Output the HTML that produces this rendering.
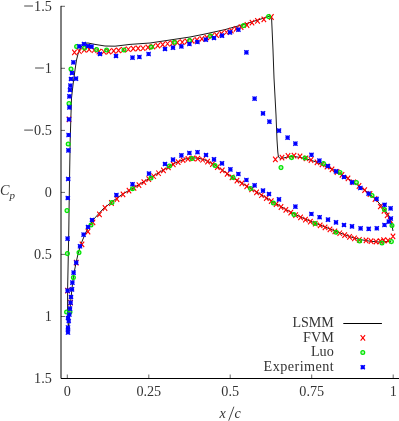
<!DOCTYPE html>
<html><head><meta charset="utf-8"><title>Cp</title>
<style>
html,body{margin:0;padding:0;background:#fff;}
body{width:399px;height:421px;overflow:hidden;}
svg{display:block;will-change:transform;}
text{font-family:"Liberation Serif",serif;font-size:14.2px;fill:#333;}
</style></head><body>
<svg width="399" height="421" viewBox="0 0 399 421">
<rect width="399" height="421" fill="#fff"/>
<path d="M393.0,231.0 L391.5,223.0 L389.0,216.0 L385.0,210.0 L379.0,203.0 L370.0,194.0 L359.0,186.0 L345.0,176.4 L335.0,170.6 L325.0,166.0 L315.0,161.6 L305.0,158.4 L295.0,156.6 L290.0,156.6 L286.0,157.4 L283.0,158.1 L280.8,158.4 L279.2,157.8 L278.3,156.0 L277.8,152.0 L277.0,140.0 L276.0,115.0 L274.0,78.0 L273.0,50.0 L271.6,18.5 L270.0,16.0 L258.0,20.0 L245.0,24.0 L225.0,29.6 L205.0,34.0 L190.0,37.0 L170.0,40.0 L150.0,43.0 L130.0,44.4 L125.0,45.0 L115.0,46.2 L105.0,46.0 L95.0,44.4 L88.0,43.0 L85.0,43.3 L82.0,45.6 L80.0,49.0 L78.0,54.0 L76.5,60.0 L75.0,70.0 L73.0,85.0 L71.5,98.0 L70.8,120.0 L70.2,140.0 L69.6,175.0 L69.2,200.0 L68.8,230.0 L68.4,250.0 L68.0,270.0 L67.6,290.0 L67.6,312.0 L68.3,327.0 L69.0,324.0 L69.5,318.0 L70.0,310.0 L70.6,302.0 L71.5,293.0 L72.5,284.0 L74.0,273.0 L76.0,263.0 L78.0,254.0 L80.6,245.0 L83.0,239.0 L87.0,230.0 L93.0,220.0 L103.0,209.0 L113.0,201.0 L123.0,193.8 L135.0,187.0 L145.0,181.0 L155.0,175.0 L165.0,169.0 L175.0,163.0 L185.0,159.0 L190.0,158.2 L195.0,157.9 L200.0,158.6 L205.0,160.0 L215.0,165.0 L225.0,172.0 L235.0,179.0 L245.0,185.0 L255.0,191.0 L265.0,197.0 L275.0,203.0 L285.0,209.0 L295.0,214.4 L305.0,219.0 L319.0,224.6 L339.0,232.6 L351.0,237.0 L359.0,239.4 L370.0,241.2 L379.0,242.0 L391.0,241.4" fill="none" stroke="#000" stroke-width="0.9" stroke-linejoin="round"/>
<path d="M66.8,116.7L71.2,122.2M66.8,122.2L71.2,116.7M65.3,287.9L69.8,293.4M65.3,293.4L69.8,287.9M68.3,299.9L72.8,305.4M68.3,305.4L72.8,299.9M74.0,259.9L78.5,265.4M74.0,265.4L78.5,259.9M72.2,49.6L76.7,55.1M72.2,55.1L76.7,49.6M77.1,48.5L81.6,54.0M77.1,54.0L81.6,48.5M82.0,47.2L86.5,52.7M82.0,52.7L86.5,47.2M86.9,46.6L91.4,52.1M86.9,52.1L91.4,46.6M91.8,47.5L96.3,53.0M91.8,53.0L96.3,47.5M96.7,48.9L101.2,54.4M96.7,54.4L101.2,48.9M101.6,49.0L106.1,54.5M101.6,54.5L106.1,49.0M106.5,48.8L111.0,54.3M106.5,54.3L111.0,48.8M111.4,48.2L115.9,53.7M111.4,53.7L115.9,48.2M116.3,47.7L120.8,53.2M116.3,53.2L120.8,47.7M121.2,47.0L125.7,52.5M121.2,52.5L125.7,47.0M126.1,46.5L130.6,52.0M126.1,52.0L130.6,46.5M131.0,45.8L135.5,51.3M131.0,51.3L135.5,45.8M135.9,45.7L140.4,51.2M135.9,51.2L140.4,45.7M140.8,45.5L145.3,51.0M140.8,51.0L145.3,45.5M145.7,44.6L150.2,50.1M145.7,50.1L150.2,44.6M150.6,43.8L155.1,49.3M150.6,49.3L155.1,43.8M155.5,42.9L160.0,48.4M155.5,48.4L160.0,42.9M160.4,41.8L164.9,47.3M160.4,47.3L164.9,41.8M165.3,41.0L169.8,46.5M165.3,46.5L169.8,41.0M170.2,40.4L174.7,45.9M170.2,45.9L174.7,40.4M175.1,39.8L179.6,45.3M175.1,45.3L179.6,39.8M180.0,39.3L184.5,44.8M180.0,44.8L184.5,39.3M184.9,38.7L189.4,44.2M184.9,44.2L189.4,38.7M189.8,38.1L194.3,43.6M189.8,43.6L194.3,38.1M194.7,37.2L199.2,42.7M194.7,42.7L199.2,37.2M199.6,36.1L204.1,41.6M199.6,41.6L204.1,36.1M204.5,34.7L209.0,40.2M204.5,40.2L209.0,34.7M209.4,33.4L213.9,38.9M209.4,38.9L213.9,33.4M214.3,32.4L218.8,37.9M214.3,37.9L218.8,32.4M219.2,30.9L223.7,36.4M219.2,36.4L223.7,30.9M224.1,29.5L228.6,35.0M224.1,35.0L228.6,29.5M229.0,27.8L233.5,33.3M229.0,33.3L233.5,27.8M233.9,26.2L238.4,31.7M233.9,31.7L238.4,26.2M238.8,24.4L243.3,29.9M238.8,29.9L243.3,24.4M244.8,22.2L249.2,27.8M244.8,27.8L249.2,22.2M249.8,19.9L254.2,25.4M249.8,25.4L254.2,19.9M255.2,18.1L259.8,23.6M255.2,23.6L259.8,18.1M261.6,16.6L266.1,22.1M261.6,22.1L266.1,16.6M269.1,14.2L273.6,19.8M269.1,19.8L273.6,14.2M273.1,156.7L277.6,162.2M273.1,162.2L277.6,156.7M279.8,154.8L284.2,160.3M279.8,160.3L284.2,154.8M285.8,153.2L290.2,158.8M285.8,158.8L290.2,153.2M291.8,152.8L296.2,158.3M291.8,158.3L296.2,152.8M297.8,153.7L302.2,159.2M297.8,159.2L302.2,153.7M303.8,155.7L308.2,161.2M303.8,161.2L308.2,155.7M308.8,157.2L313.2,162.8M308.8,162.8L313.2,157.2M314.8,159.7L319.2,165.2M314.8,165.2L319.2,159.7M319.8,161.8L324.2,167.2M319.8,167.2L324.2,161.8M324.8,163.8L329.2,169.3M324.8,169.3L329.2,163.8M329.8,166.7L334.2,172.2M329.8,172.2L334.2,166.7M334.8,169.2L339.2,174.8M334.8,174.8L339.2,169.2M339.8,172.1L344.2,177.6M339.8,177.6L344.2,172.1M345.8,175.7L350.2,181.2M345.8,181.2L350.2,175.7M351.2,179.5L355.8,185.0M351.2,185.0L355.8,179.5M356.8,183.2L361.2,188.8M356.8,188.8L361.2,183.2M362.4,187.3L366.9,192.8M362.4,192.8L366.9,187.3M367.8,191.2L372.2,196.8M367.8,196.8L372.2,191.2M372.8,196.2L377.2,201.8M372.8,201.8L377.2,196.2M378.1,203.8L382.6,209.2M378.1,209.2L382.6,203.8M381.8,208.1L386.2,213.6M381.8,213.6L386.2,208.1M384.9,212.7L389.4,218.2M384.9,218.2L389.4,212.7M388.1,217.8L392.6,223.2M388.1,223.2L392.6,217.8M390.8,233.7L395.2,239.2M390.8,239.2L395.2,233.7M79.8,241.7L84.2,247.2M79.8,247.2L84.2,241.7M85.8,228.8L90.2,234.3M85.8,234.3L90.2,228.8M90.8,219.7L95.2,225.2M90.8,225.2L95.2,219.7M97.2,211.7L101.7,217.2M97.2,217.2L101.7,211.7M102.8,205.2L107.2,210.8M102.8,210.8L107.2,205.2M109.2,200.2L113.7,205.8M109.2,205.8L113.7,200.2M114.8,196.2L119.2,201.8M114.8,201.8L119.2,196.2M120.8,191.7L125.2,197.2M120.8,197.2L125.2,191.7M126.8,187.8L131.2,193.3M126.8,193.3L131.2,187.8M363.8,237.7L368.2,243.2M363.8,243.2L368.2,237.7M368.8,238.3L373.2,243.8M368.8,243.8L373.2,238.3M373.8,238.8L378.2,244.3M373.8,244.3L378.2,238.8M378.1,238.4L382.6,243.9M378.1,243.9L382.6,238.4M381.4,237.3L385.9,242.8M381.4,242.8L385.9,237.3M385.8,237.9L390.2,243.4M385.8,243.4L390.2,237.9M131.8,185.2L136.2,190.7M131.8,190.7L136.2,185.2M136.7,182.3L141.2,187.8M136.7,187.8L141.2,182.3M141.6,179.4L146.1,184.9M141.6,184.9L146.1,179.4M146.5,176.4L151.0,181.9M146.5,181.9L151.0,176.4M151.4,173.5L155.9,179.0M151.4,179.0L155.9,173.5M156.3,170.5L160.8,176.0M156.3,176.0L160.8,170.5M161.2,167.6L165.7,173.1M161.2,173.1L165.7,167.6M166.1,164.7L170.6,170.2M166.1,170.2L170.6,164.7M171.0,161.7L175.5,167.2M171.0,167.2L175.5,161.7M175.9,159.4L180.4,164.9M175.9,164.9L180.4,159.4M180.8,157.4L185.3,162.9M180.8,162.9L185.3,157.4M185.7,156.2L190.2,161.7M185.7,161.7L190.2,156.2M190.6,155.7L195.1,161.2M190.6,161.2L195.1,155.7M195.5,155.9L200.0,161.4M195.5,161.4L200.0,155.9M200.4,157.0L204.9,162.5M200.4,162.5L204.9,157.0M205.3,158.9L209.8,164.4M205.3,164.4L209.8,158.9M210.2,161.4L214.7,166.9M210.2,166.9L214.7,161.4M215.1,164.3L219.6,169.8M215.1,169.8L219.6,164.3M220.0,167.7L224.5,173.2M220.0,173.2L224.5,167.7M224.9,171.1L229.4,176.6M224.9,176.6L229.4,171.1M229.8,174.6L234.3,180.1M229.8,180.1L234.3,174.6M234.7,177.8L239.2,183.3M234.7,183.3L239.2,177.8M239.6,180.7L244.1,186.2M239.6,186.2L244.1,180.7M244.5,183.7L249.0,189.2M244.5,189.2L249.0,183.7M249.4,186.6L253.9,192.1M249.4,192.1L253.9,186.6M254.3,189.6L258.8,195.1M254.3,195.1L258.8,189.6M259.2,192.5L263.7,198.0M259.2,198.0L263.7,192.5M264.1,195.4L268.6,200.9M264.1,200.9L268.6,195.4M269.0,198.4L273.5,203.9M269.0,203.9L273.5,198.4M273.9,201.3L278.4,206.8M273.9,206.8L278.4,201.3M278.8,204.2L283.2,209.8M278.8,209.8L283.2,204.2M283.6,207.1L288.1,212.6M283.6,212.6L288.1,207.1M288.5,209.8L293.0,215.3M288.5,215.3L293.0,209.8M293.4,212.4L297.9,217.9M293.4,217.9L297.9,212.4M298.3,214.6L302.8,220.1M298.3,220.1L302.8,214.6M303.2,216.8L307.7,222.3M303.2,222.3L307.7,216.8M308.1,218.8L312.6,224.3M308.1,224.3L312.6,218.8M313.0,220.8L317.5,226.3M313.0,226.3L317.5,220.8M317.9,222.7L322.4,228.2M317.9,228.2L322.4,222.7M322.8,224.7L327.3,230.2M322.8,230.2L327.3,224.7M327.7,226.6L332.2,232.1M327.7,232.1L332.2,226.6M332.6,228.6L337.1,234.1M332.6,234.1L337.1,228.6M337.5,230.5L342.0,236.0M337.5,236.0L342.0,230.5M342.4,232.3L346.9,237.8M342.4,237.8L346.9,232.3M347.3,234.1L351.8,239.6M347.3,239.6L351.8,234.1M352.2,235.7L356.7,241.2M352.2,241.2L356.7,235.7M357.1,237.1L361.6,242.6M357.1,242.6L361.6,237.1M360.6,335.1L365.1,340.6M360.6,340.6L365.1,335.1" fill="none" stroke="#ff0000" stroke-width="1.1"/>
<g fill="#00e400" fill-opacity="0.3" stroke="#00e400" stroke-width="1.25"><circle cx="67.0" cy="210.6" r="1.9"/><circle cx="67.4" cy="253.6" r="1.9"/><circle cx="66.6" cy="312.0" r="1.9"/><circle cx="68.2" cy="144.0" r="1.9"/><circle cx="69.0" cy="103.4" r="1.9"/><circle cx="71.0" cy="69.0" r="1.9"/><circle cx="76.6" cy="46.4" r="1.9"/><circle cx="84.6" cy="48.0" r="1.9"/><circle cx="96.6" cy="49.4" r="1.9"/><circle cx="106.6" cy="50.0" r="1.9"/><circle cx="124.0" cy="50.0" r="1.9"/><circle cx="151.4" cy="47.0" r="1.9"/><circle cx="174.4" cy="42.2" r="1.9"/><circle cx="189.6" cy="40.4" r="1.9"/><circle cx="210.6" cy="36.0" r="1.9"/><circle cx="243.6" cy="25.6" r="1.9"/><circle cx="268.6" cy="16.6" r="1.9"/><circle cx="281.0" cy="167.6" r="1.9"/><circle cx="291.6" cy="157.6" r="1.9"/><circle cx="305.0" cy="158.0" r="1.9"/><circle cx="323.5" cy="163.5" r="1.9"/><circle cx="340.0" cy="172.4" r="1.9"/><circle cx="356.4" cy="182.6" r="1.9"/><circle cx="372.0" cy="195.4" r="1.9"/><circle cx="384.4" cy="209.4" r="1.9"/><circle cx="392.0" cy="225.5" r="1.9"/><circle cx="70.0" cy="312.0" r="1.9"/><circle cx="73.4" cy="277.6" r="1.9"/><circle cx="79.0" cy="252.6" r="1.9"/><circle cx="91.0" cy="225.0" r="1.9"/><circle cx="112.0" cy="202.4" r="1.9"/><circle cx="132.5" cy="188.7" r="1.9"/><circle cx="151.0" cy="178.0" r="1.9"/><circle cx="169.4" cy="166.0" r="1.9"/><circle cx="192.0" cy="158.4" r="1.9"/><circle cx="215.0" cy="165.4" r="1.9"/><circle cx="233.0" cy="177.4" r="1.9"/><circle cx="250.6" cy="188.4" r="1.9"/><circle cx="273.4" cy="203.0" r="1.9"/><circle cx="294.0" cy="214.4" r="1.9"/><circle cx="315.0" cy="223.4" r="1.9"/><circle cx="336.0" cy="232.2" r="1.9"/><circle cx="359.6" cy="241.0" r="1.9"/><circle cx="382.0" cy="243.0" r="1.9"/><circle cx="391.4" cy="241.6" r="1.9"/><circle cx="362.8" cy="352.5" r="1.9"/></g>
<path d="M67.3,94.3L71.5,98.5M67.3,98.5L71.5,94.3M67.3,96.4L71.5,96.4M69.4,94.3L69.4,98.5M67.9,87.9L72.1,92.1M67.9,92.1L72.1,87.9M67.9,90.0L72.1,90.0M70.0,87.9L70.0,92.1M68.3,83.5L72.5,87.7M68.3,87.7L72.5,83.5M68.3,85.6L72.5,85.6M70.4,83.5L70.4,87.7M68.9,76.9L73.1,81.1M68.9,81.1L73.1,76.9M68.9,79.0L73.1,79.0M71.0,76.9L71.0,81.1M73.9,76.5L78.1,80.7M73.9,80.7L78.1,76.5M73.9,78.6L78.1,78.6M76.0,76.5L76.0,80.7M69.9,70.9L74.1,75.1M69.9,75.1L74.1,70.9M69.9,73.0L74.1,73.0M72.0,70.9L72.0,75.1M71.3,60.3L75.5,64.5M71.3,64.5L75.5,60.3M71.3,62.4L75.5,62.4M73.4,60.3L73.4,64.5M77.3,44.3L81.5,48.5M77.3,48.5L81.5,44.3M77.3,46.4L81.5,46.4M79.4,44.3L79.4,48.5M81.9,41.9L86.1,46.1M81.9,46.1L86.1,41.9M81.9,44.0L86.1,44.0M84.0,41.9L84.0,46.1M85.9,43.9L90.1,48.1M85.9,48.1L90.1,43.9M85.9,46.0L90.1,46.0M88.0,43.9L88.0,48.1M89.5,44.5L93.7,48.7M89.5,48.7L93.7,44.5M89.5,46.6L93.7,46.6M91.6,44.5L91.6,48.7M97.9,51.9L102.1,56.1M97.9,56.1L102.1,51.9M97.9,54.0L102.1,54.0M100.0,51.9L100.0,56.1M113.9,53.9L118.1,58.1M113.9,58.1L118.1,53.9M113.9,56.0L118.1,56.0M116.0,53.9L116.0,58.1M130.4,55.5L134.6,59.7M130.4,59.7L134.6,55.5M130.4,57.6L134.6,57.6M132.5,55.5L132.5,59.7M137.3,54.9L141.5,59.1M137.3,59.1L141.5,54.9M137.3,57.0L141.5,57.0M139.4,54.9L139.4,59.1M146.5,51.9L150.7,56.1M146.5,56.1L150.7,51.9M146.5,54.0L150.7,54.0M148.6,51.9L148.6,56.1M162.9,46.9L167.1,51.1M162.9,51.1L167.1,46.9M162.9,49.0L167.1,49.0M165.0,46.9L165.0,51.1M170.9,45.5L175.1,49.7M170.9,49.7L175.1,45.5M170.9,47.6L175.1,47.6M173.0,45.5L173.0,49.7M179.3,44.3L183.5,48.5M179.3,48.5L183.5,44.3M179.3,46.4L183.5,46.4M181.4,44.3L181.4,48.5M187.3,41.9L191.5,46.1M187.3,46.1L191.5,41.9M187.3,44.0L191.5,44.0M189.4,41.9L189.4,46.1M195.3,39.9L199.5,44.1M195.3,44.1L199.5,39.9M195.3,42.0L199.5,42.0M197.4,39.9L197.4,44.1M203.7,37.5L207.9,41.7M203.7,41.7L207.9,37.5M203.7,39.6L207.9,39.6M205.8,37.5L205.8,41.7M211.9,35.9L216.1,40.1M211.9,40.1L216.1,35.9M211.9,38.0L216.1,38.0M214.0,35.9L214.0,40.1M219.9,33.5L224.1,37.7M219.9,37.7L224.1,33.5M219.9,35.6L224.1,35.6M222.0,33.5L222.0,37.7M227.9,30.3L232.1,34.5M227.9,34.5L232.1,30.3M227.9,32.4L232.1,32.4M230.0,30.3L230.0,34.5M236.3,27.5L240.5,31.7M236.3,31.7L240.5,27.5M236.3,29.6L240.5,29.6M238.4,27.5L238.4,31.7M244.3,50.3L248.5,54.5M244.3,54.5L248.5,50.3M244.3,52.4L248.5,52.4M246.4,50.3L246.4,54.5M252.5,96.5L256.7,100.7M252.5,100.7L256.7,96.5M252.5,98.6L256.7,98.6M254.6,96.5L254.6,100.7M260.9,111.3L265.1,115.5M260.9,115.5L265.1,111.3M260.9,113.4L265.1,113.4M263.0,111.3L263.0,115.5M267.3,119.5L271.5,123.7M267.3,123.7L271.5,119.5M267.3,121.6L271.5,121.6M269.4,119.5L269.4,123.7M276.9,128.5L281.1,132.7M276.9,132.7L281.1,128.5M276.9,130.6L281.1,130.6M279.0,128.5L279.0,132.7M285.5,135.5L289.7,139.7M285.5,139.7L289.7,135.5M285.5,137.6L289.7,137.6M287.6,135.5L287.6,139.7M293.3,141.5L297.5,145.7M293.3,145.7L297.5,141.5M293.3,143.6L297.5,143.6M295.4,141.5L295.4,145.7M309.4,152.7L313.6,156.9M309.4,156.9L313.6,152.7M309.4,154.8L313.6,154.8M311.5,152.7L311.5,156.9M317.3,158.5L321.5,162.7M317.3,162.7L321.5,158.5M317.3,160.6L321.5,160.6M319.4,158.5L319.4,162.7M325.9,163.9L330.1,168.1M325.9,168.1L330.1,163.9M325.9,166.0L330.1,166.0M328.0,163.9L328.0,168.1M333.9,169.3L338.1,173.5M333.9,173.5L338.1,169.3M333.9,171.4L338.1,171.4M336.0,169.3L336.0,173.5M341.9,174.9L346.1,179.1M341.9,179.1L346.1,174.9M341.9,177.0L346.1,177.0M344.0,174.9L344.0,179.1M349.9,180.3L354.1,184.5M349.9,184.5L354.1,180.3M349.9,182.4L354.1,182.4M352.0,180.3L352.0,184.5M358.3,185.9L362.5,190.1M358.3,190.1L362.5,185.9M358.3,188.0L362.5,188.0M360.4,185.9L360.4,190.1M366.5,191.5L370.7,195.7M366.5,195.7L370.7,191.5M366.5,193.6L370.7,193.6M368.6,191.5L368.6,195.7M374.5,196.9L378.7,201.1M374.5,201.1L378.7,196.9M374.5,199.0L378.7,199.0M376.6,196.9L376.6,201.1M382.5,202.7L386.7,206.9M382.5,206.9L386.7,202.7M382.5,204.8L386.7,204.8M384.6,202.7L384.6,206.9M388.5,206.3L392.7,210.5M388.5,210.5L392.7,206.3M388.5,208.4L392.7,208.4M390.6,206.3L390.6,210.5M388.7,216.4L392.9,220.6M388.7,220.6L392.9,216.4M388.7,218.5L392.9,218.5M390.8,216.4L390.8,220.6M386.7,219.5L390.9,223.7M386.7,223.7L390.9,219.5M386.7,221.6L390.9,221.6M388.8,219.5L388.8,223.7M382.4,222.9L386.6,227.1M382.4,227.1L386.6,222.9M382.4,225.0L386.6,225.0M384.5,222.9L384.5,227.1M67.3,105.3L71.5,109.5M67.3,109.5L71.5,105.3M67.3,107.4L71.5,107.4M69.4,105.3L69.4,109.5M66.9,117.3L71.1,121.5M66.9,121.5L71.1,117.3M66.9,119.4L71.1,119.4M69.0,117.3L69.0,121.5M66.5,132.9L70.7,137.1M66.5,137.1L70.7,132.9M66.5,135.0L70.7,135.0M68.6,132.9L68.6,137.1M66.3,148.3L70.5,152.5M66.3,152.5L70.5,148.3M66.3,150.4L70.5,150.4M68.4,148.3L68.4,152.5M66.1,176.9L70.3,181.1M66.1,181.1L70.3,176.9M66.1,179.0L70.3,179.0M68.2,176.9L68.2,181.1M65.7,195.9L69.9,200.1M65.7,200.1L69.9,195.9M65.7,198.0L69.9,198.0M67.8,195.9L67.8,200.1M65.5,236.5L69.7,240.7M65.5,240.7L69.7,236.5M65.5,238.6L69.7,238.6M67.6,236.5L67.6,240.7M65.5,288.5L69.7,292.7M65.5,292.7L69.7,288.5M65.5,290.6L69.7,290.6M67.6,288.5L67.6,292.7M77.9,244.2L82.1,248.4M77.9,248.4L82.1,244.2M77.9,246.3L82.1,246.3M80.0,244.2L80.0,248.4M81.5,232.5L85.7,236.7M81.5,236.7L85.7,232.5M81.5,234.6L85.7,234.6M83.6,232.5L83.6,236.7M85.9,224.9L90.1,229.1M85.9,229.1L90.1,224.9M85.9,227.0L90.1,227.0M88.0,224.9L88.0,229.1M89.9,217.9L94.1,222.1M89.9,222.1L94.1,217.9M89.9,220.0L94.1,220.0M92.0,217.9L92.0,222.1M114.3,192.9L118.5,197.1M114.3,197.1L118.5,192.9M114.3,195.0L118.5,195.0M116.4,192.9L116.4,197.1M130.4,182.1L134.6,186.3M130.4,186.3L134.6,182.1M130.4,184.2L134.6,184.2M132.5,182.1L132.5,186.3M146.9,171.5L151.1,175.7M146.9,175.7L151.1,171.5M146.9,173.6L151.1,173.6M149.0,171.5L149.0,175.7M162.9,161.9L167.1,166.1M162.9,166.1L167.1,161.9M162.9,164.0L167.1,164.0M165.0,161.9L165.0,166.1M170.9,157.5L175.1,161.7M170.9,161.7L175.1,157.5M170.9,159.6L175.1,159.6M173.0,157.5L173.0,161.7M179.3,153.3L183.5,157.5M179.3,157.5L183.5,153.3M179.3,155.4L183.5,155.4M181.4,153.3L181.4,157.5M187.3,150.9L191.5,155.1M187.3,155.1L191.5,150.9M187.3,153.0L191.5,153.0M189.4,150.9L189.4,155.1M195.4,150.1L199.6,154.3M195.4,154.3L199.6,150.1M195.4,152.2L199.6,152.2M197.5,150.1L197.5,154.3M203.9,152.9L208.1,157.1M203.9,157.1L208.1,152.9M203.9,155.0L208.1,155.0M206.0,152.9L206.0,157.1M211.9,157.3L216.1,161.5M211.9,161.5L216.1,157.3M211.9,159.4L216.1,159.4M214.0,157.3L214.0,161.5M219.9,161.3L224.1,165.5M219.9,165.5L224.1,161.3M219.9,163.4L224.1,163.4M222.0,161.3L222.0,165.5M228.3,167.3L232.5,171.5M228.3,171.5L232.5,167.3M228.3,169.4L232.5,169.4M230.4,167.3L230.4,171.5M236.3,171.9L240.5,176.1M236.3,176.1L240.5,171.9M236.3,174.0L240.5,174.0M238.4,171.9L238.4,176.1M244.3,177.9L248.5,182.1M244.3,182.1L248.5,177.9M244.3,180.0L248.5,180.0M246.4,177.9L246.4,182.1M252.5,183.3L256.7,187.5M252.5,187.5L256.7,183.3M252.5,185.4L256.7,185.4M254.6,183.3L254.6,187.5M260.9,188.5L265.1,192.7M260.9,192.7L265.1,188.5M260.9,190.6L265.1,190.6M263.0,188.5L263.0,192.7M266.9,191.9L271.1,196.1M266.9,196.1L271.1,191.9M266.9,194.0L271.1,194.0M269.0,191.9L269.0,196.1M276.9,197.3L281.1,201.5M276.9,201.5L281.1,197.3M276.9,199.4L281.1,199.4M279.0,197.3L279.0,201.5M293.3,204.5L297.5,208.7M293.3,208.7L297.5,204.5M293.3,206.6L297.5,206.6M295.4,204.5L295.4,208.7M309.3,211.9L313.5,216.1M309.3,216.1L313.5,211.9M309.3,214.0L313.5,214.0M311.4,211.9L311.4,216.1M317.5,215.1L321.7,219.3M317.5,219.3L321.7,215.1M317.5,217.2L321.7,217.2M319.6,215.1L319.6,219.3M325.9,217.5L330.1,221.7M325.9,221.7L330.1,217.5M325.9,219.6L330.1,219.6M328.0,217.5L328.0,221.7M333.9,220.3L338.1,224.5M333.9,224.5L338.1,220.3M333.9,222.4L338.1,222.4M336.0,220.3L336.0,224.5M341.9,222.9L346.1,227.1M341.9,227.1L346.1,222.9M341.9,225.0L346.1,225.0M344.0,222.9L344.0,227.1M349.9,224.3L354.1,228.5M349.9,228.5L354.1,224.3M349.9,226.4L354.1,226.4M352.0,224.3L352.0,228.5M358.5,226.3L362.7,230.5M358.5,230.5L362.7,226.3M358.5,228.4L362.7,228.4M360.6,226.3L360.6,230.5M366.6,226.8L370.8,231.0M366.6,231.0L370.8,226.8M366.6,228.9L370.8,228.9M368.7,226.8L368.7,231.0M374.7,226.2L378.9,230.4M374.7,230.4L378.9,226.2M374.7,228.3L378.9,228.3M376.8,226.2L376.8,230.4M74.1,260.5L78.3,264.7M74.1,264.7L78.3,260.5M74.1,262.6L78.3,262.6M76.2,260.5L76.2,264.7M71.5,270.5L75.7,274.7M71.5,274.7L75.7,270.5M71.5,272.6L75.7,272.6M73.6,270.5L73.6,274.7M70.3,280.5L74.5,284.7M70.3,284.7L74.5,280.5M70.3,282.6L74.5,282.6M72.4,280.5L72.4,284.7M69.9,287.3L74.1,291.5M69.9,291.5L74.1,287.3M69.9,289.4L74.1,289.4M72.0,287.3L72.0,291.5M68.9,294.9L73.1,299.1M68.9,299.1L73.1,294.9M68.9,297.0L73.1,297.0M71.0,294.9L71.0,299.1M68.5,300.5L72.7,304.7M68.5,304.7L72.7,300.5M68.5,302.6L72.7,302.6M70.6,300.5L70.6,304.7M67.9,306.5L72.1,310.7M67.9,310.7L72.1,306.5M67.9,308.6L72.1,308.6M70.0,306.5L70.0,310.7M67.3,312.4L71.5,316.6M67.3,316.6L71.5,312.4M67.3,314.5L71.5,314.5M69.4,312.4L69.4,316.6M65.9,315.9L70.1,320.1M65.9,320.1L70.1,315.9M65.9,318.0L70.1,318.0M68.0,315.9L68.0,320.1M66.7,318.9L70.8,323.1M66.7,323.1L70.8,318.9M66.7,321.0L70.8,321.0M68.8,318.9L68.8,323.1M65.9,325.4L70.1,329.6M65.9,329.6L70.1,325.4M65.9,327.5L70.1,327.5M68.0,325.4L68.0,329.6M65.9,327.9L70.1,332.1M65.9,332.1L70.1,327.9M65.9,330.0L70.1,330.0M68.0,327.9L68.0,332.1M65.9,330.4L70.1,334.6M65.9,334.6L70.1,330.4M65.9,332.5L70.1,332.5M68.0,330.4L68.0,334.6M360.7,365.1L364.9,369.3M360.7,369.3L364.9,365.1M360.7,367.2L364.9,367.2M362.8,365.1L362.8,369.3" fill="none" stroke="#0000ff" stroke-width="1.3"/>
<path d="M61.0,5.8999999999999995V378.5H399" fill="none" stroke="#000" stroke-width="1" stroke-linejoin="miter"/>
<path d="M61.0,6.3h4M61.0,68.3h4M61.0,130.4h4M61.0,192.4h4M61.0,254.4h4M61.0,316.5h4M61.0,378.5h4M67.3,378.5v-4M148.8,378.5v-4M230.2,378.5v-4M311.7,378.5v-4M393.2,378.5v-4" fill="none" stroke="#000" stroke-width="0.6"/>
<path d="M24.2,6.0H33.0M35.1,68.0H43.9M24.2,130.1H33.0" fill="none" stroke="#333" stroke-width="0.9"/>
<path d="M343.3,323.5H381.9" stroke="#000" stroke-width="1.1"/>
<g><text x="51.8" y="10.5" text-anchor="end">1.5</text><text x="51.8" y="72.5" text-anchor="end">1</text><text x="51.8" y="134.6" text-anchor="end">0.5</text><text x="51.8" y="196.6" text-anchor="end">0</text><text x="51.8" y="258.6" text-anchor="end">0.5</text><text x="51.8" y="320.7" text-anchor="end">1</text><text x="51.8" y="382.7" text-anchor="end">1.5</text><text x="67.3" y="396.2" text-anchor="middle">0</text><text x="148.8" y="396.2" text-anchor="middle">0.25</text><text x="230.2" y="396.2" text-anchor="middle">0.5</text><text x="311.7" y="396.2" text-anchor="middle">0.75</text><text x="393.2" y="396.2" text-anchor="middle">1</text></g>
<text x="333.8" y="327.2" text-anchor="end" textLength="41.4" lengthAdjust="spacingAndGlyphs">LSMM</text>
<text x="333.8" y="341.7" text-anchor="end">FVM</text>
<text x="333.8" y="356.1" text-anchor="end">Luo</text>
<text x="333.8" y="370.6" text-anchor="end" textLength="70.2" lengthAdjust="spacing">Experiment</text>
<text x="0" y="195.3" font-style="italic" font-size="15.5px">C<tspan font-size="11px" dy="3.2">p</tspan></text>
<text x="219.6" y="417.8" font-style="italic">x</text><path d="M228.7,420.7L233.9,406.7" stroke="#333" stroke-width="0.9"/><text x="234.6" y="417.8" font-style="italic">c</text>
</svg>
</body></html>
